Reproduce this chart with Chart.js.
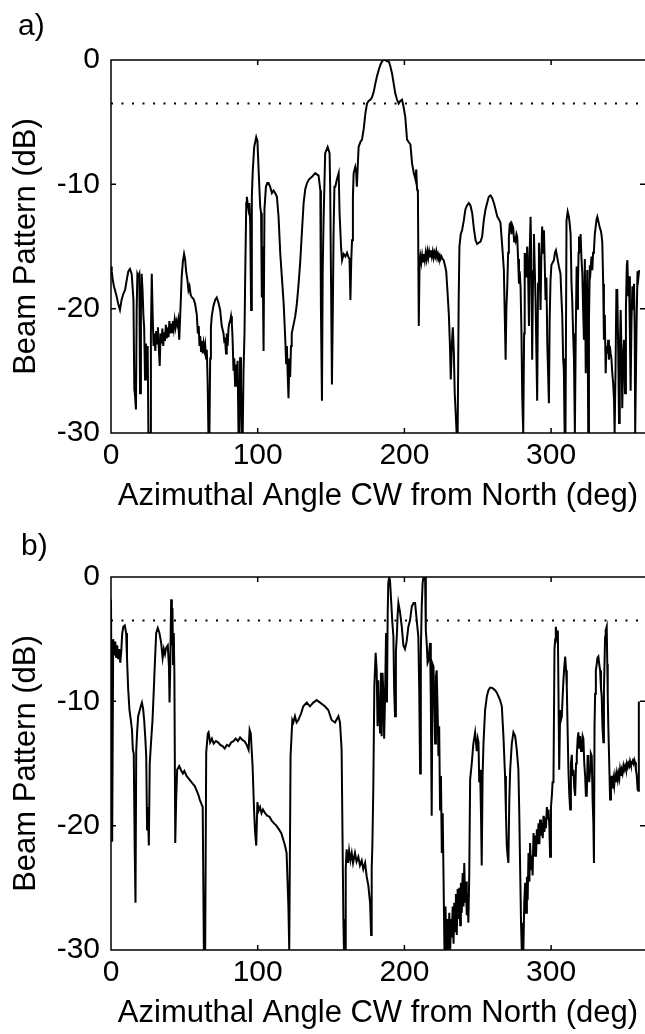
<!DOCTYPE html>
<html>
<head>
<meta charset="utf-8">
<title>Beam Pattern</title>
<script src="https://cdn.jsdelivr.net/npm/chart.js@4.4.1/dist/chart.umd.min.js"></script>
<style>
  html, body { margin: 0; padding: 0; background: #fff; }
  .panel { position: absolute; left: 0; }
</style>
</head>
<body>
<canvas id="panelA" class="panel" width="645" height="517" style="top:0"></canvas>
<canvas id="panelB" class="panel" width="645" height="517" style="top:517px"></canvas>
<script>
// azimuth (deg) / beam pattern (dB) pairs, values below -30 dB sit on the floor
const traceA = [
  [0,-16.6],[0.5,-17.0],[1.1,-17.6],[2.0,-18.2],[2.7,-18.5],[3.8,-19.0],[4.9,-19.6],[6.1,-20.1],
  [7.2,-19.3],[8.4,-18.8],[9.6,-18.5],[10.7,-17.7],[11.8,-17.0],[12.9,-16.8],[14.1,-17.2],[15.3,-19.3],
  [15.9,-26.5],[16.4,-27.0],[17.0,-28.1],[17.5,-20],[18.0,-17.2],[18.7,-17.4],[19.3,-17.2],[19.8,-26.8],
  [20.4,-20],[20.9,-17.2],[21.5,-18.5],[22.1,-20.6],[22.6,-21.5],[23.2,-25.7],[23.8,-22.8],[24.4,-25],
  [25.0,-23],[25.5,-30],[26.6,-30],[27.2,-22],[27.8,-17.2],[28.4,-20.5],
  [29.0,-23.0],[29.6,-22.0],[30.2,-23.4],[30.8,-21.8],[31.4,-22.8],[32.0,-21.5],[32.6,-23.2],[33.2,-24.6],
  [33.8,-22.0],[34.4,-22.8],[35.0,-21.6],[35.6,-23.0],[36.2,-21.9],[36.8,-22.6],[37.4,-21.3],[38.0,-22.4],
  [38.6,-21.5],[39.2,-22.3],[39.8,-21.0],[40.4,-22.0],[41.0,-21.2],[41.6,-21.9],[42.2,-21.0],[42.8,-21.6],
  [43.4,-20.9],[44.0,-21.5],[44.6,-21.0],[45.2,-21.3],[45.8,-20.9],[46.5,-22.5],[47.1,-20.8],
  [48.2,-17.4],[49.0,-16.2],[49.8,-15.6],[50.5,-16.0],[51.2,-17.0],[52.0,-17.6],[52.8,-18.5],[53.5,-18.2],
  [54.3,-18.9],[55.2,-19.1],[56.2,-19.2],[57.3,-19.6],[58.5,-20.5],[59.2,-22.0],[59.8,-21.4],[60.3,-23.0],
  [60.8,-22.2],[61.4,-23.4],[61.9,-22.6],[62.5,-23.6],[63.1,-22.8],[63.7,-23.3],[64.2,-22.9],[64.8,-24.0],
  [65.3,-23.3],[65.9,-26.0],[66.4,-30],[67.1,-30],[67.6,-24],[68.1,-21.5],[68.7,-20.6],[69.8,-19.8],
  [71.0,-19.3],[72.1,-19.1],[73.2,-19.5],[74.4,-20.1],[75.5,-21.4],[76.7,-22.0],[77.2,-22.6],[77.8,-22.5],
  [78.4,-23.6],[78.9,-22.0],[79.5,-23.0],[80.1,-21.6],[80.6,-21.2],[81.2,-21.0],[81.8,-20.6],[82.4,-21.2],
  [82.9,-22.5],[83.5,-25.0],[84.0,-24.0],[84.6,-26.2],[85.2,-24.5],[85.8,-25.5],[86.3,-24.2],[86.9,-30],
  [87.5,-30],[88.0,-23.9],[88.6,-26],[89.2,-30],[89.8,-30],[90.3,-25.2],
  [91.0,-22],[91.5,-17.2],[92.2,-11.5],[92.6,-11.0],[93.2,-11.6],[93.7,-12.0],[94.3,-11.5],[94.9,-13.1],
  [95.5,-20.1],[96.0,-11],[96.6,-9.0],[97.6,-7.0],[99.0,-6.2],[99.8,-6.5],[100.6,-8.8],[101.7,-11.8],
  [102.3,-12.3],[102.8,-19.1],[103.3,-15],[104.0,-23.4],[104.6,-12],[105.6,-10.2],[106.5,-9.9],[107.4,-9.9],
  [108.5,-10.2],[109.7,-10.7],[110.8,-10.5],[111.9,-10.7],[113.1,-11.0],[114.2,-12.6],[115.4,-15.6],[116.5,-17.5],
  [117.7,-19.6],[118.8,-22.5],[119.4,-24.4],[119.9,-23.0],[120.5,-25.5],[121.0,-27.2],[121.6,-24.0],[122.1,-25.5],
  [122.7,-23.0],[123.2,-22.0],[124.4,-21.3],[125.6,-20.6],[126.7,-19.6],[127.8,-18.1],[129.0,-16.2],[130.1,-13.9],
  [131.3,-11.5],[132.4,-10.4],[133.6,-9.9],[135.0,-9.6],[137.0,-9.4],[139.2,-9.1],[141.5,-9.3],[142.7,-10.5],
  [143.1,-20.0],[143.8,-27.4],[144.3,-17],[144.9,-12.9],[146.0,-7.5],[147.7,-7.0],[149.0,-7.5],[149.4,-10.2],
  [150.0,-18],[150.6,-26.1],[151.2,-20.1],[151.7,-14],[152.3,-10.2],[152.9,-10.2],[154.0,-9.6],[155.2,-9.1],
  [155.8,-12.3],[156.8,-15.0],[157.5,-16.1],[158.6,-15.6],[159.8,-15.8],[160.9,-15.5],[162.0,-15.9],[162.6,-16.0],
  [163.2,-19.3],[163.8,-16],[164.3,-14.5],[164.9,-11],[165.4,-9.1],[166.5,-8.6],[167.1,-9.0],[167.6,-10.2],
  [168.2,-8.5],[168.8,-7.0],[170.0,-6.6],[171.1,-6.4],[172.3,-5.5],[173.4,-4.3],[174.5,-3.5],[175.6,-3.3],
  [176.8,-3.2],[177.9,-3.0],[179.0,-2.6],[180.2,-1.9],[181.3,-1.3],[182.5,-0.8],[183.6,-0.4],[184.8,-0.1],
  [185.9,0],[187.0,0],[188.1,-0.1],[189.3,-0.1],[190.4,-0.5],[191.6,-1.1],[192.7,-1.9],[193.8,-2.7],
  [195.0,-3.2],[196.1,-3.5],[197.2,-3.3],[198.4,-3.2],[199.5,-3.8],[200.6,-4.6],[201.8,-6.4],[202.9,-6.6],
  [204.1,-6.8],[205.2,-8.3],[206.4,-9.1],[206.9,-9.3],[207.5,-9.6],[208.1,-8.8],[208.6,-10.4],[209.2,-10.6],
  [209.8,-21.4],[210.3,-16.5],[210.9,-15.8],[211.5,-16.3],[212.1,-15.7],[212.7,-16.2],[213.3,-15.6],[213.9,-16.1],
  [214.5,-15.5],[215.1,-16.0],[215.7,-15.4],[216.3,-15.9],[216.9,-15.4],[217.5,-15.8],[218.1,-15.3],[218.7,-15.8],
  [219.3,-15.4],[219.9,-15.9],[220.5,-15.5],[221.1,-15.8],[221.7,-15.4],[222.3,-15.9],[222.9,-15.6],[223.5,-15.9],
  [224.1,-15.7],[224.7,-16.0],[225.3,-15.8],[226.0,-16.0],[226.8,-16.1],[227.6,-16.5],[228.5,-17.0],[229.3,-18.5],
  [230.3,-20.5],[231.0,-22.8],[231.6,-25.7],[232.3,-23.0],[233.0,-21.5],[233.7,-23.5],[234.3,-26.8],[235.0,-28.5],
  [235.6,-30],[236.3,-30],[237.0,-19.3],[237.5,-15.0],[238.4,-14.0],[239.3,-13.7],[240.5,-12.9],[241.6,-12.0],
  [242.7,-11.7],[243.9,-11.5],[245.0,-11.7],[246.2,-12.3],[247.3,-13.5],[248.5,-14.5],[249.6,-14.8],[250.7,-14.7],
  [251.9,-14.6],[253.0,-14.2],[254.1,-12.9],[255.3,-12.0],[256.4,-11.5],[257.5,-11.0],[258.7,-10.9],[259.8,-11.1],
  [261.0,-11.5],[262.1,-12.0],[263.3,-12.6],[264.4,-12.8],[265.5,-13.1],[266.7,-15.0],[267.8,-16.9],[268.4,-20.5],
  [269.0,-24.1],[269.5,-20.0],[270.1,-18.3],[270.7,-15.5],[271.2,-14.3],[271.8,-13.2],[272.4,-13.1],[273.0,-14.0],
  [273.6,-13.3],[274.2,-13.5],[274.8,-14.6],[275.3,-14.2],[275.8,-14.5],[276.4,-14.0],[276.9,-14.2],[277.5,-16.0],
  [278.1,-18.0],[278.6,-17.0],[279.2,-18.3],[279.8,-22.0],[280.3,-27.0],[281.0,-30],[281.6,-22.0],[282.0,-15.6],
  [282.6,-15.6],[283.1,-17.5],[283.7,-15.0],[284.3,-17.0],[284.9,-21.4],[285.4,-15.5],[286.0,-12.6],[286.5,-16.0],
  [287.1,-24.1],[287.7,-17.0],[288.3,-14.0],[288.8,-16.5],[289.4,-19.3],[289.9,-23.0],[290.5,-27.4],[291.1,-18.0],
  [291.7,-14.7],[292.2,-17.0],[292.8,-20.1],[293.3,-16.0],[293.9,-13.4],[294.5,-15.5],[295.1,-13.7],[295.6,-16.0],
  [296.2,-19.3],[296.8,-17.5],[297.4,-22.8],[297.9,-25.0],[298.5,-27.6],[299.0,-21.0],[299.6,-17.7],[300.2,-16.5],
  [301.0,-16.3],[301.9,-16.1],[302.6,-15.5],[303.3,-15.3],[304.2,-15.9],[305.3,-16.6],[306.4,-17.2],[307.0,-19.0],
  [307.6,-20.6],[308.2,-24.0],[308.7,-25.0],[309.2,-30],[309.8,-30],[310.5,-12.9],[311.3,-12.2],[312.1,-12.6],
  [312.7,-13.2],[313.3,-14.0],[313.9,-18.0],[314.4,-19.3],[315.0,-22.0],[315.6,-24.1],[316.2,-30],[316.8,-22.0],
  [317.4,-16.6],[317.9,-20.0],[318.3,-18.2],[318.7,-15.5],[319.0,-14.2],[319.6,-15.5],[320.1,-14.0],[320.7,-16.0],
  [321.3,-17.2],[321.8,-20.0],[322.4,-22.5],[323.0,-16.0],[323.6,-25.2],[324.2,-20.0],[324.7,-16.9],[325.3,-30],
  [325.8,-20.9],[326.4,-16.5],[326.9,-16.9],[327.5,-15.8],[328.1,-16.9],[328.6,-15.5],[329.2,-15.3],[329.8,-14.0],
  [330.4,-13.4],[331.0,-12.8],[331.5,-12.6],[332.1,-12.9],[332.6,-12.9],[333.2,-13.5],[333.8,-13.7],[334.3,-14.0],
  [334.9,-14.7],[335.5,-18.0],[336.0,-22.5],[336.6,-20.5],[337.2,-25.2],[337.7,-23.0],[338.3,-23.6],[338.9,-22.5],
  [339.4,-24.1],[340.0,-23.0],[340.6,-23.6],[341.1,-24.0],[341.7,-25.2],[342.3,-26.0],[342.9,-27.4],[343.3,-30],
  [343.9,-25],[344.5,-18.5],[345.1,-18.5],[345.7,-23],[346.3,-29.2],[346.8,-24],[347.4,-20.1],[347.9,-23],
  [348.5,-28.0],[349.1,-24],[349.7,-22.5],[350.4,-26.8],[351.0,-20],[351.6,-16.5],[352.0,-16.1],[352.6,-19],
  [353.1,-17.4],[353.7,-22],[354.2,-26.6],[354.8,-21],[355.4,-18.2],[356.0,-20],[356.5,-18.0],[357.0,-22],
  [357.3,-30],[357.8,-30],[358.3,-20.9],[358.9,-17.0],[359.5,-17.5],[360.0,-16.9]
];

const traceB = [
  [0,-1.8],[0.8,-21.3],[1.5,-5.0],[2.2,-6.3],[2.9,-5.2],[3.5,-6.5],[4.2,-5.5],[4.9,-6.6],
  [5.6,-5.8],[6.3,-6.9],[7.0,-6.0],[7.6,-4.6],[8.4,-4.0],[9.4,-3.9],[10.3,-4.5],[10.9,-6.5],
  [11.7,-9.0],[12.6,-10.7],[13.5,-11.5],[14.3,-12.3],[14.9,-13.9],[15.5,-14.2],[16.2,-22.2],[16.7,-26.2],
  [17.2,-14.0],[17.8,-12.5],[18.5,-11.2],[19.4,-10.8],[20.3,-10.4],[21.1,-10.1],[21.9,-10.6],[22.6,-11.5],
  [23.4,-13.0],[24.0,-14.4],[24.6,-20.3],[25.1,-18.5],[25.8,-21.6],[26.4,-15.0],[27.4,-13.1],[28.3,-11.5],
  [29.2,-9.0],[29.7,-7.5],[30.8,-4.5],[31.9,-4.1],[33.0,-4.5],[34.2,-5.3],[35.2,-6.5],[36.0,-5.8],
  [36.8,-6.2],[37.6,-5.7],[38.7,-5.5],[39.5,-7.2],[39.9,-10.1],[40.4,-7.2],[41.0,-1.8],[41.5,-5.5],
  [41.9,-2.5],[42.3,-7.0],[42.8,-4.5],[43.2,-7.7],[43.8,-21.4],[44.4,-18.0],[45.1,-15.5],[46.5,-15.2],
  [48.0,-15.6],[49.0,-15.8],[50.0,-15.6],[51.5,-16.0],[53.5,-16.3],[55.5,-16.6],[57.0,-16.8],[58.1,-17.1],
  [59.5,-17.5],[60.5,-17.9],[61.5,-18.2],[62.5,-18.5],[63.3,-30],[64.2,-30],[64.9,-14.1],[66.0,-12.6],
  [66.5,-12.5],[67.6,-13.3],[68.8,-13.0],[70.0,-13.4],[71.5,-13.2],[73.0,-13.3],[74.5,-13.5],[76.0,-13.6],
  [77.5,-13.8],[79.0,-13.5],[80.5,-13.6],[82.0,-13.3],[83.5,-13.2],[85.0,-13.0],[86.5,-13.2],[88.0,-12.9],
  [89.5,-13.1],[91.0,-13.2],[92.5,-13.5],[93.8,-13.9],[94.5,-12.3],[95.3,-12.6],[96.5,-15.2],[97.5,-18.7],
  [98.2,-20.5],[99.0,-21.6],[99.8,-18.1],[100.6,-18.8],[101.6,-18.5],[102.6,-19.0],[103.6,-18.7],[105.0,-19.0],
  [106.5,-19.2],[108.2,-19.3],[109.5,-19.6],[111.0,-19.8],[112.7,-20.0],[114.5,-20.3],[116.1,-20.6],[118.6,-21.6],
  [119.7,-22.2],[120.9,-26.4],[121.5,-30],[122.0,-30],[122.4,-14.4],[123.6,-11.5],[124.3,-11.7],[125.4,-11.2],
  [126.5,-11.7],[127.7,-11.5],[129.5,-11.0],[131.1,-10.4],[133.4,-10.1],[135.6,-10.4],[137.9,-10.1],[140.2,-9.9],
  [142.5,-10.1],[145.8,-10.4],[148.1,-10.7],[150.4,-11.5],[152.7,-11.7],[155.0,-11.2],[156.1,-11.7],[157.2,-13.9],
  [158.4,-27.5],[158.8,-30],[159.6,-30],[160.0,-23.5],[160.6,-21.9],[161.5,-23.0],[162.3,-22.0],[163.2,-22.8],
  [164.1,-22.2],[165.0,-23.0],[166.3,-22.2],[167.4,-22.9],[168.6,-22.5],[169.7,-23.2],[170.9,-22.8],[172.0,-23.5],
  [173.2,-23.0],[174.3,-24.1],[175.4,-24.8],[176.6,-26.2],[177.3,-28.8],[177.7,-23.5],[178.2,-21.4],[178.8,-17.0],
  [179.5,-8.8],[180.4,-6.1],[181.1,-7.5],[181.7,-12.0],[182.2,-8.3],[183.4,-12.5],[184.0,-7.7],[184.5,-12.8],
  [185.1,-7.7],[185.7,-9.5],[186.2,-13.0],[186.8,-9.7],[187.5,-4.5],[188.1,-10.1],[188.6,-3.0],[189.0,-0.5],
  [189.6,0],[190.2,-0.3],[190.9,-1.8],[191.8,-3.7],[192.5,-4.8],[193.0,-9],[193.6,-11.2],[194.2,-6],
  [194.8,-4.8],[195.4,-3],[195.9,-2.1],[197.0,-2.8],[198.2,-4.0],[199.3,-5.5],[200.4,-5.8],[201.5,-5.2],
  [202.7,-4.0],[203.8,-3.5],[205.0,-2.4],[206.2,-2.1],[207.3,-2.1],[208.4,-3.5],[209.5,-4.8],[210.1,-9],
  [210.7,-15.8],[211.2,-6],[211.8,-2.4],[212.4,-0.5],[213.0,0],[214.1,0],[214.6,-4.3],[215.2,-5.3],
  [215.8,-6.9],[216.4,-6.7],[217.5,-5.3],[218.0,-10],[218.6,-19.2],[219.2,-7],[219.8,-7.2],[220.3,-9.5],
  [220.9,-13.4],[221.5,-8.0],[222.0,-7.5],[222.6,-10.5],[223.2,-14.4],[223.7,-12],[224.3,-18.7],[224.9,-16],
  [225.5,-22.2],[226.1,-19],[226.6,-23.5],[227.3,-30],[228.0,-26.5],[228.6,-30],[229.2,-27.5],[230.0,-30],
  [230.6,-27.0],[231.2,-30],[231.8,-27.5],[232.3,-29.0],[232.9,-26.5],[233.5,-29.5],[234.0,-26.2],[234.5,-28.5],
  [235.1,-25.5],[235.7,-28.8],[236.3,-25.1],[236.8,-27.5],[237.4,-25.0],[238.0,-28.0],[238.5,-24.6],[239.1,-27.0],
  [239.7,-23.8],[240.3,-26.5],[240.8,-23.0],[241.4,-26.2],[242.0,-24.5],[242.5,-27.2],[243.0,-25.5],[243.6,-27.8],
  [244.2,-24.0],[244.8,-16.3],[245.9,-15.0],[247.0,-13.4],[248.2,-12.5],[249.3,-14.0],[250.0,-13.0],[250.5,-13.3],
  [251.0,-16.5],[251.6,-15.5],[252.2,-19],[252.7,-23.2],[253.3,-16],[253.9,-13.4],[255.0,-10.7],[256.2,-9.6],
  [257.3,-9.1],[258.4,-8.9],[259.5,-8.9],[260.7,-9.0],[261.8,-9.1],[263.0,-9.3],[264.1,-9.6],[265.2,-9.9],
  [266.4,-10.4],[267.5,-12.8],[268.6,-16.0],[269.2,-19],[269.8,-21.6],[270.4,-22.5],[270.9,-23.0],[271.5,-18],
  [272.1,-15.5],[273.2,-13.4],[274.3,-12.5],[275.5,-12.8],[276.6,-13.9],[277.7,-15.5],[278.3,-19],[278.9,-23.5],
  [279.5,-27.8],[280.0,-30],[281.1,-30],[281.7,-26.2],[282.3,-24.6],[282.9,-27],[283.5,-24.1],[284.0,-26],
  [284.6,-22.2],[285.2,-24.5],[285.7,-21.4],[286.3,-23.5],[286.8,-22.4],[287.4,-24],[288.0,-20.6],[288.6,-22.5],
  [289.1,-20.8],[289.7,-22.5],[290.3,-20.3],[290.8,-21.5],[291.4,-19.8],[292.0,-21.5],[292.5,-19.5],[293.1,-20.8],
  [293.7,-19.8],[294.3,-21.0],[294.8,-19.2],[295.4,-20.5],[295.9,-19.8],[296.5,-20.2],[297.1,-18.5],[297.6,-19.5],
  [298.2,-18.7],[298.8,-20],[299.3,-22.5],[299.9,-18.5],[300.5,-17.6],[301.0,-16.5],[301.6,-16.5],[302.3,-5.8],
  [302.8,-5.0],[303.2,-4.0],[303.9,-4.8],[304.6,-4.3],[305.0,-9],[305.5,-15.5],[306.2,-10.7],[306.7,-11.5],
  [307.3,-11.2],[307.9,-9.5],[308.4,-8.3],[309.0,-7.2],[309.6,-6.4],[310.2,-7.5],[310.7,-8.8],[311.2,-12],
  [311.8,-15.5],[312.4,-17.5],[313.0,-18.7],[313.5,-15],[314.1,-14.3],[314.6,-16],[315.2,-15.5],[315.8,-17],
  [316.4,-17.6],[317.0,-15],[317.5,-14.4],[318.1,-13],[318.6,-12.5],[319.2,-13.8],[319.8,-12.8],[320.4,-14],
  [320.9,-13.9],[321.5,-12.8],[322.0,-13.0],[322.6,-15],[323.2,-16.0],[323.7,-17.6],[324.3,-17.6],[324.9,-14.4],
  [325.4,-14.4],[326.0,-16.5],[326.6,-15.5],[327.1,-14.2],[327.7,-14.4],[328.3,-18],[328.8,-19.8],[329.2,-23.0],
  [329.6,-12],[330.0,-9.4],[330.5,-7.5],[331.1,-7.0],[331.6,-6.5],[332.2,-6.4],[332.8,-7],[333.4,-7.5],
  [334.0,-9],[334.5,-9.6],[335.0,-12],[335.6,-13.3],[336.0,-9],[336.3,-7.5],[336.8,-4.8],[337.2,-4.3],
  [337.9,-4.0],[338.3,-7],[338.6,-9.6],[339.0,-12],[339.5,-14.4],[340.2,-17.9],[340.8,-16.5],[341.3,-16.0],
  [342.0,-17],[342.5,-16.3],[343.0,-16.8],[343.6,-16.0],[344.2,-16.5],[344.8,-15.8],[345.4,-16.3],[345.9,-15.8],
  [346.5,-16.2],[347.0,-15.5],[347.6,-16.0],[348.1,-15.5],[348.7,-15.8],[349.3,-15.2],[349.8,-15.5],[350.4,-15.2],
  [351.0,-15.5],[351.6,-15.0],[352.2,-15.3],[352.7,-15.0],[353.3,-15.2],[353.8,-14.8],[354.4,-15.1],[355.0,-15.0],
  [355.6,-14.8],[356.1,-15.0],[356.7,-14.7],[357.2,-14.9],[357.8,-15.5],[358.4,-16.0],[359.0,-17.1],[359.5,-17.2],
  [359.8,-10.1],[360.5,-10.1]
];

const xTicks = [0, 100, 200, 300];
const yTicks = [0, -10, -20, -30];
const halfPowerDb = -3.5;
const azimuthMax = 364;

const FONT = '"Liberation Sans", Arial, sans-serif';

// box round the axes with MATLAB-style inward ticks, plus the panel letter
const axesBox = {
  id: 'axesBox',
  afterDatasetsDraw(chart, args, opts) {
    const { ctx, chartArea: a, scales: { x, y } } = chart;
    ctx.save();
    ctx.strokeStyle = '#000';
    ctx.lineWidth = 1.5;
    ctx.beginPath();
    ctx.moveTo(a.right + 2, a.top);
    ctx.lineTo(a.left, a.top);
    ctx.lineTo(a.left, a.bottom);
    ctx.lineTo(a.right + 2, a.bottom);
    xTicks.forEach(v => {
      const px = x.getPixelForValue(v);
      ctx.moveTo(px, a.bottom); ctx.lineTo(px, a.bottom - 5);
      ctx.moveTo(px, a.top); ctx.lineTo(px, a.top + 5);
    });
    yTicks.forEach(v => {
      const py = y.getPixelForValue(v);
      ctx.moveTo(a.left, py); ctx.lineTo(a.left + 5, py);
      ctx.moveTo(a.right, py); ctx.lineTo(a.right - 5, py);
    });
    ctx.stroke();
    ctx.fillStyle = '#000';
    ctx.font = '30px ' + FONT;
    ctx.textBaseline = 'alphabetic';
    ctx.fillText(opts.letter, opts.lx, opts.ly);
    ctx.restore();
  }
};

const makePanel = (id, trace, letter, lx, ly) => {
  const points = trace.map(([x, y]) => ({ x, y }));
  return new Chart(document.getElementById(id), {
    type: 'line',
    data: {
      datasets: [
        {
          data: points,
          borderColor: '#000',
          borderWidth: 2,
          pointRadius: 0,
          tension: 0,
          fill: false,
          order: 1
        },
        {
          data: [{ x: 0, y: halfPowerDb }, { x: azimuthMax, y: halfPowerDb }],
          borderColor: '#000',
          borderWidth: 2,
          borderDash: [2, 8.5],
          pointRadius: 0,
          fill: false,
          order: 2
        }
      ]
    },
    options: {
      responsive: false,
      animation: false,
      devicePixelRatio: 1,
      layout: { padding: { top: 60, left: 0, right: 0, bottom: 0 } },
      plugins: {
        legend: { display: false },
        tooltip: { enabled: false },
        axesBox: { letter, lx, ly }
      },
      scales: {
        x: {
          type: 'linear',
          min: 0,
          max: azimuthMax,
          afterBuildTicks: s => { s.ticks = xTicks.map(value => ({ value })); },
          afterFit: s => { s.height = 84; },
          grid: { display: false, drawTicks: false },
          border: { display: false },
          ticks: { color: '#000', padding: 5, maxRotation: 0, font: { family: FONT, size: 30 } },
          title: {
            display: true,
            text: 'Azimuthal Angle CW from North (deg)',
            color: '#000',
            font: { family: FONT, size: 31 },
            padding: { top: 0, bottom: 2 }
          }
        },
        y: {
          min: -30,
          max: 0,
          afterBuildTicks: s => { s.ticks = yTicks.map(value => ({ value })); },
          afterFit: s => { s.width = 111; },
          grid: { display: false, drawTicks: false },
          border: { display: false },
          ticks: { color: '#000', padding: 11, font: { family: FONT, size: 30 } },
          title: {
            display: true,
            text: 'Beam Pattern (dB)',
            color: '#000',
            font: { family: FONT, size: 31 },
            padding: { top: 8, bottom: 0 }
          }
        }
      }
    },
    plugins: [axesBox]
  });
};

makePanel('panelA', traceA, 'a)', 18, 35);
makePanel('panelB', traceB, 'b)', 21, 38);
</script>
</body>
</html>
